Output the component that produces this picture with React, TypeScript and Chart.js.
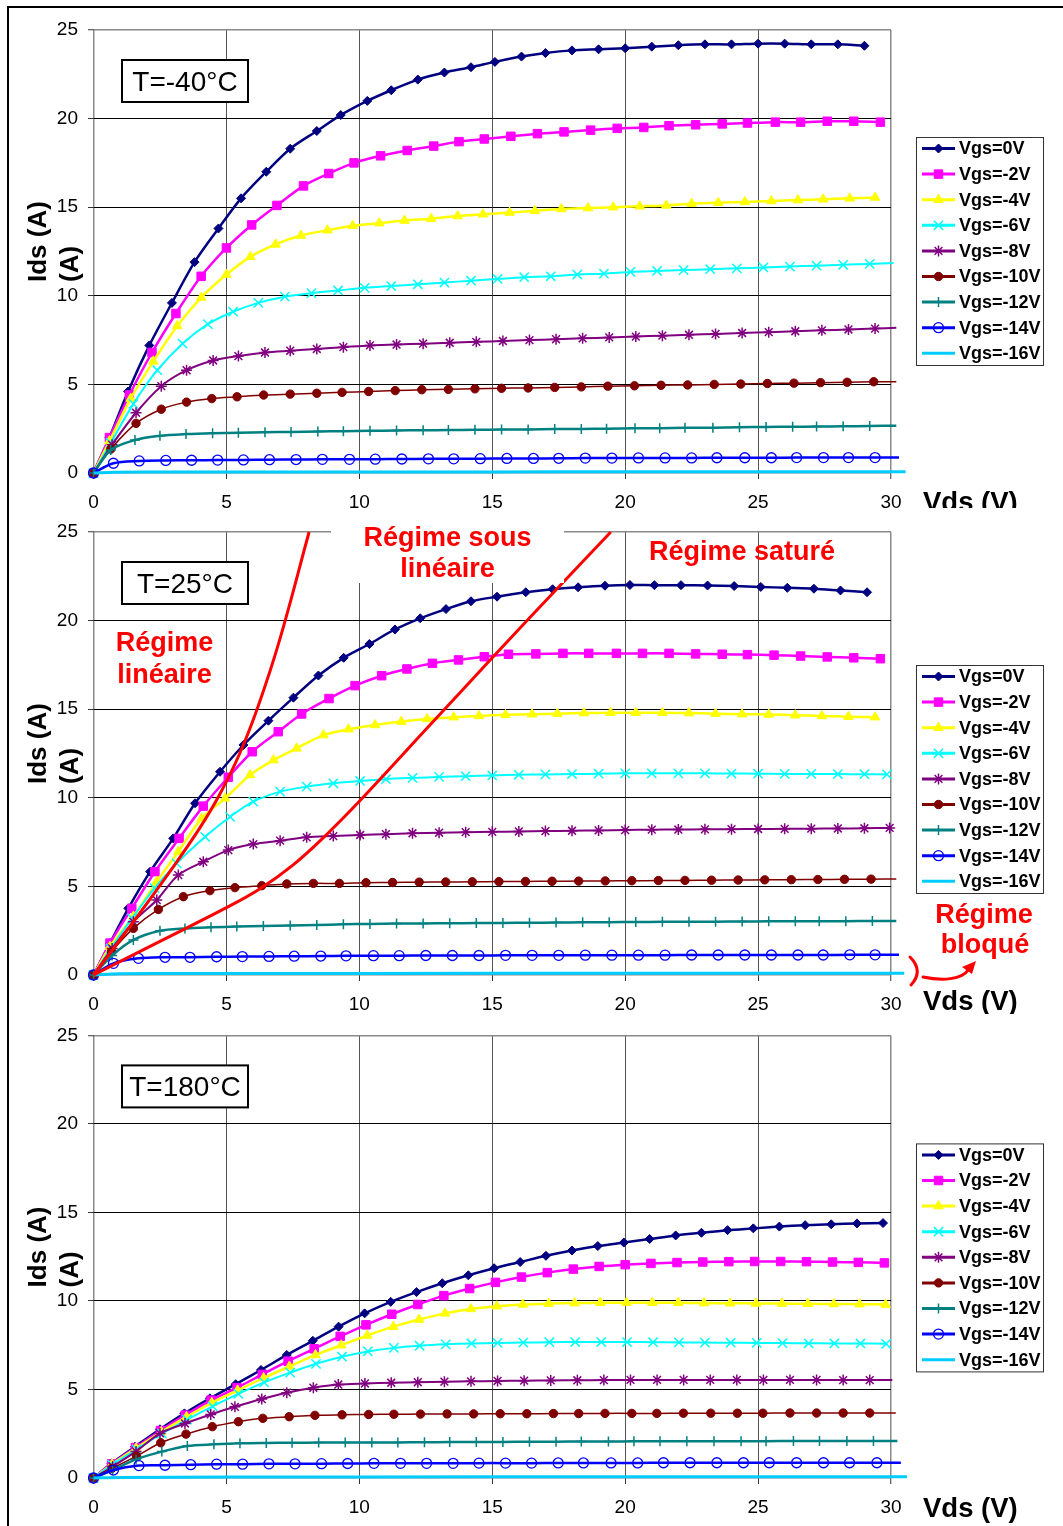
import React, { useEffect, useRef } from 'react';
import { Chart, registerables } from 'chart.js';

Chart.register(...registerables);

const FONT = '"Liberation Sans", Arial, Helvetica, sans-serif';

// ---------------- tick labels ----------------
const xTickValues = [0, 5, 10, 15, 20, 25, 30];
const yTickValues = [0, 5, 10, 15, 20, 25];

// ---------------- series names ----------------
const seriesLabels = ['Vgs=0V', 'Vgs=-2V', 'Vgs=-4V', 'Vgs=-6V', 'Vgs=-8V', 'Vgs=-10V', 'Vgs=-12V', 'Vgs=-14V', 'Vgs=-16V'];
const tempLabels = ['T=-40°C', 'T=25°C', 'T=180°C'];

// ---------------- T = -40°C ----------------
const vds_m40_0 = [0, 0.6, 1.3, 2.1, 2.95, 3.8, 4.7, 5.55, 6.5, 7.4, 8.4, 9.3, 10.3, 11.2, 12.2, 13.2, 14.2, 15.1, 16.1, 17.0, 18.0, 19.0, 20.0, 21.0, 22.0, 23.0, 24.0, 25.0, 26.0, 27.0, 28.0, 29.0];
const ids_m40_0 = [0, 2.0, 4.6, 7.2, 9.6, 11.9, 13.8, 15.5, 17.0, 18.3, 19.3, 20.2, 21.0, 21.6, 22.2, 22.6, 22.9, 23.2, 23.5, 23.7, 23.85, 23.91, 23.97, 24.06, 24.14, 24.19, 24.19, 24.23, 24.23, 24.19, 24.19, 24.11];
const vds_m40_2 = [0, 0.6, 1.35, 2.2, 3.1, 4.05, 5.0, 5.95, 6.9, 7.9, 8.85, 9.8, 10.8, 11.8, 12.8, 13.75, 14.7, 15.7, 16.7, 17.7, 18.7, 19.7, 20.7, 21.65, 22.65, 23.65, 24.6, 25.65, 26.6, 27.6, 28.6, 29.6];
const ids_m40_2 = [0, 2.0, 4.4, 6.8, 9.0, 11.1, 12.7, 14.0, 15.1, 16.2, 16.9, 17.5, 17.9, 18.2, 18.45, 18.7, 18.85, 19.0, 19.15, 19.25, 19.35, 19.45, 19.5, 19.6, 19.65, 19.7, 19.75, 19.8, 19.8, 19.85, 19.85, 19.8];
const vds_m40_4 = [0, 0.6, 1.4, 2.25, 3.15, 4.05, 5.0, 5.9, 6.85, 7.8, 8.8, 9.75, 10.75, 11.7, 12.7, 13.7, 14.65, 15.65, 16.6, 17.6, 18.6, 19.55, 20.55, 21.55, 22.5, 23.5, 24.5, 25.5, 26.5, 27.45, 28.45, 29.4];
const ids_m40_4 = [0, 1.8, 4.2, 6.3, 8.3, 9.9, 11.2, 12.2, 12.9, 13.4, 13.7, 13.95, 14.1, 14.25, 14.35, 14.5, 14.6, 14.7, 14.8, 14.9, 14.95, 15.0, 15.05, 15.1, 15.2, 15.25, 15.3, 15.35, 15.4, 15.45, 15.5, 15.55];
const vds_m40_6 = [0, 0.65, 1.5, 2.4, 3.35, 4.3, 5.25, 6.2, 7.2, 8.2, 9.2, 10.2, 11.2, 12.2, 13.2, 14.2, 15.2, 16.2, 17.2, 18.2, 19.2, 20.2, 21.2, 22.2, 23.2, 24.2, 25.2, 26.2, 27.2, 28.2, 29.2, 30.1];
const ids_m40_6 = [0, 1.7, 3.9, 5.8, 7.3, 8.4, 9.1, 9.6, 9.95, 10.15, 10.3, 10.45, 10.55, 10.65, 10.75, 10.85, 10.95, 11.05, 11.1, 11.2, 11.25, 11.35, 11.4, 11.45, 11.5, 11.55, 11.6, 11.65, 11.7, 11.75, 11.8, 11.85];
const vds_m40_8 = [0, 0.7, 1.6, 2.55, 3.5, 4.5, 5.45, 6.45, 7.4, 8.4, 9.4, 10.4, 11.4, 12.4, 13.4, 14.4, 15.4, 16.4, 17.4, 18.4, 19.4, 20.4, 21.4, 22.4, 23.4, 24.4, 25.4, 26.4, 27.4, 28.4, 29.4, 30.2];
const ids_m40_8 = [0, 1.6, 3.4, 4.9, 5.8, 6.35, 6.6, 6.8, 6.9, 7.0, 7.1, 7.2, 7.25, 7.3, 7.35, 7.4, 7.45, 7.5, 7.55, 7.6, 7.65, 7.7, 7.75, 7.8, 7.85, 7.9, 7.95, 8.0, 8.05, 8.1, 8.15, 8.2];
const vds_m40_10 = [0, 0.65, 1.6, 2.55, 3.5, 4.45, 5.4, 6.4, 7.4, 8.4, 9.35, 10.35, 11.35, 12.35, 13.35, 14.35, 15.35, 16.35, 17.35, 18.35, 19.35, 20.35, 21.35, 22.35, 23.35, 24.35, 25.35, 26.35, 27.35, 28.35, 29.35, 30.2];
const ids_m40_10 = [0, 1.35, 2.8, 3.6, 4.0, 4.2, 4.3, 4.4, 4.45, 4.5, 4.55, 4.6, 4.65, 4.7, 4.72, 4.75, 4.78, 4.8, 4.83, 4.86, 4.9, 4.92, 4.95, 4.97, 5.0, 5.02, 5.05, 5.07, 5.1, 5.12, 5.15, 5.15];
const vds_m40_12 = [0, 0.65, 1.56, 2.5, 3.48, 4.48, 5.45, 6.45, 7.43, 8.44, 9.4, 10.4, 11.4, 12.4, 13.35, 14.35, 15.35, 16.35, 17.35, 18.35, 19.3, 20.37, 21.3, 22.25, 23.3, 24.3, 25.3, 26.3, 27.2, 28.2, 29.2, 30.2];
const ids_m40_12 = [0, 1.3, 1.86, 2.1, 2.2, 2.25, 2.27, 2.3, 2.32, 2.34, 2.36, 2.38, 2.4, 2.41, 2.42, 2.44, 2.45, 2.46, 2.48, 2.49, 2.5, 2.52, 2.53, 2.55, 2.56, 2.58, 2.6, 2.61, 2.62, 2.64, 2.65, 2.67];
const vds_m40_14 = [0, 0.75, 1.72, 2.72, 3.69, 4.67, 5.64, 6.62, 7.62, 8.61, 9.63, 10.6, 11.6, 12.6, 13.55, 14.55, 15.55, 16.55, 17.5, 18.5, 19.5, 20.5, 21.5, 22.5, 23.45, 24.5, 25.5, 26.45, 27.46, 28.4, 29.4, 30.3];
const ids_m40_14 = [0, 0.55, 0.68, 0.71, 0.72, 0.73, 0.74, 0.75, 0.76, 0.77, 0.77, 0.78, 0.79, 0.8, 0.8, 0.81, 0.82, 0.82, 0.83, 0.84, 0.84, 0.85, 0.85, 0.85, 0.86, 0.86, 0.86, 0.87, 0.87, 0.87, 0.87, 0.87];
const vds_m40_16 = [0, 0.8, 2.0, 5.0, 10.0, 15.0, 20.0, 25.0, 30.55];
const ids_m40_16 = [0, 0.04, 0.05, 0.05, 0.06, 0.06, 0.07, 0.07, 0.07];

// ---------------- T = 25°C ----------------
const vds_25_0 = [0, 0.62, 1.31, 2.13, 3.0, 3.82, 4.76, 5.64, 6.58, 7.52, 8.46, 9.41, 10.38, 11.34, 12.29, 13.26, 14.2, 15.18, 16.26, 17.27, 18.23, 19.24, 20.18, 21.1, 22.1, 23.1, 24.1, 25.1, 26.1, 27.1, 28.1, 29.1];
const ids_25_0 = [0, 1.8, 3.76, 5.83, 7.71, 9.69, 11.47, 12.98, 14.35, 15.65, 16.9, 17.9, 18.68, 19.5, 20.13, 20.65, 21.09, 21.35, 21.6, 21.77, 21.88, 21.97, 22.01, 22.0, 22.0, 21.98, 21.95, 21.9, 21.85, 21.8, 21.7, 21.6];
const vds_25_2 = [0, 0.62, 1.44, 2.31, 3.22, 4.13, 5.07, 5.97, 6.95, 7.83, 8.86, 9.84, 10.84, 11.79, 12.75, 13.73, 14.7, 15.61, 16.64, 17.66, 18.63, 19.67, 20.65, 21.65, 22.65, 23.65, 24.6, 25.6, 26.6, 27.6, 28.6, 29.6];
const ids_25_2 = [0, 1.8, 3.76, 5.83, 7.71, 9.53, 11.16, 12.6, 13.73, 14.73, 15.6, 16.33, 16.89, 17.27, 17.59, 17.78, 17.96, 18.1, 18.12, 18.15, 18.15, 18.15, 18.15, 18.15, 18.12, 18.1, 18.08, 18.05, 18.0, 17.95, 17.9, 17.85];
const vds_25_4 = [0, 0.62, 1.5, 2.38, 3.19, 4.07, 4.95, 5.89, 6.77, 7.64, 8.65, 9.59, 10.59, 11.58, 12.55, 13.55, 14.5, 15.5, 16.5, 17.45, 18.45, 19.45, 20.4, 21.4, 22.4, 23.4, 24.4, 25.4, 26.4, 27.4, 28.4, 29.4];
const ids_25_4 = [0, 1.6, 3.3, 5.27, 6.96, 8.84, 9.97, 11.29, 12.13, 12.79, 13.54, 13.87, 14.11, 14.3, 14.45, 14.55, 14.62, 14.68, 14.72, 14.75, 14.78, 14.8, 14.8, 14.8, 14.78, 14.75, 14.72, 14.7, 14.66, 14.62, 14.58, 14.55];
const vds_25_6 = [0, 0.65, 1.45, 2.3, 3.13, 4.2, 5.14, 6.01, 7.02, 8.02, 9.02, 10.03, 11.0, 12.0, 13.0, 14.0, 15.0, 16.0, 17.0, 18.0, 19.0, 20.0, 21.0, 22.0, 23.0, 24.0, 25.0, 26.0, 27.0, 28.0, 29.0, 29.85];
const ids_25_6 = [0, 1.5, 3.2, 4.9, 6.3, 7.8, 8.93, 9.78, 10.35, 10.63, 10.82, 10.95, 11.05, 11.12, 11.18, 11.22, 11.26, 11.3, 11.32, 11.34, 11.36, 11.38, 11.38, 11.38, 11.38, 11.37, 11.36, 11.35, 11.35, 11.34, 11.33, 11.32];
const vds_25_8 = [0, 0.7, 1.5, 2.38, 3.19, 4.13, 5.07, 6.01, 7.02, 8.02, 9.02, 10.03, 11.0, 12.0, 13.0, 14.0, 15.0, 16.0, 17.0, 18.0, 19.0, 20.0, 21.0, 22.0, 23.0, 24.0, 25.0, 26.0, 27.0, 28.0, 29.0, 29.95];
const ids_25_8 = [0, 1.5, 3.0, 4.23, 5.64, 6.39, 7.05, 7.39, 7.58, 7.77, 7.84, 7.9, 7.95, 8.0, 8.03, 8.06, 8.08, 8.1, 8.12, 8.14, 8.16, 8.18, 8.2, 8.21, 8.22, 8.23, 8.24, 8.25, 8.26, 8.27, 8.28, 8.3];
const vds_25_10 = [0, 0.68, 1.5, 2.44, 3.38, 4.38, 5.32, 6.33, 7.27, 8.27, 9.25, 10.25, 11.25, 12.25, 13.25, 14.25, 15.25, 16.25, 17.25, 18.25, 19.25, 20.25, 21.25, 22.25, 23.25, 24.25, 25.25, 26.25, 27.25, 28.25, 29.25, 30.2];
const ids_25_10 = [0, 1.32, 2.63, 3.7, 4.42, 4.76, 4.93, 5.04, 5.14, 5.17, 5.17, 5.21, 5.22, 5.24, 5.25, 5.26, 5.27, 5.28, 5.29, 5.3, 5.31, 5.32, 5.33, 5.34, 5.35, 5.36, 5.37, 5.38, 5.39, 5.4, 5.41, 5.42];
const vds_25_12 = [0, 0.7, 1.5, 2.5, 3.44, 4.42, 5.39, 6.39, 7.4, 8.4, 9.4, 10.4, 11.4, 12.4, 13.4, 14.4, 15.4, 16.4, 17.4, 18.4, 19.4, 20.4, 21.4, 22.4, 23.4, 24.4, 25.4, 26.4, 27.3, 28.3, 29.3, 30.2];
const ids_25_12 = [0, 1.1, 1.98, 2.5, 2.63, 2.69, 2.73, 2.77, 2.8, 2.82, 2.86, 2.88, 2.9, 2.91, 2.92, 2.93, 2.94, 2.95, 2.96, 2.97, 2.98, 2.99, 3.0, 3.0, 3.01, 3.02, 3.03, 3.03, 3.04, 3.04, 3.05, 3.05];
const vds_25_14 = [0, 0.75, 1.69, 2.69, 3.63, 4.63, 5.6, 6.6, 7.55, 8.55, 9.5, 10.53, 11.5, 12.5, 13.5, 14.5, 15.5, 16.5, 17.5, 18.5, 19.5, 20.5, 21.5, 22.5, 23.5, 24.5, 25.5, 26.5, 27.45, 28.45, 29.4, 30.3];
const ids_25_14 = [0, 0.66, 0.94, 1.0, 1.0, 1.03, 1.04, 1.05, 1.06, 1.07, 1.08, 1.09, 1.09, 1.1, 1.1, 1.1, 1.11, 1.11, 1.11, 1.12, 1.12, 1.12, 1.12, 1.13, 1.13, 1.13, 1.13, 1.13, 1.13, 1.14, 1.14, 1.14];
const vds_25_16 = [0, 1.0, 3.0, 10.0, 20.0, 30.5];
const ids_25_16 = [0, 0.07, 0.08, 0.09, 0.1, 0.1];

// red regime boundaries (T = 25°C)
const linBoundVds = [0, 1.5, 3.0, 4.0, 4.75, 5.5, 6.2, 7.0, 8.11];
const linBoundIds = [0, 3.0, 6.1, 8.3, 10.2, 12.5, 15.2, 18.9, 25];
const satBoundVds = [0, 2.5, 5.0, 6.25, 7.5, 8.75, 10.0, 12.5, 15.0, 17.5, 19.46];
const satBoundIds = [0, 1.9, 3.8, 4.85, 6.2, 7.9, 9.8, 13.85, 17.9, 21.9, 25];

// ---------------- T = 180°C ----------------
const vds_180_0 = [0, 0.68, 1.56, 2.5, 3.42, 4.38, 5.35, 6.3, 7.27, 8.25, 9.22, 10.2, 11.18, 12.15, 13.12, 14.1, 15.07, 16.05, 17.02, 18.0, 18.97, 19.95, 20.92, 21.9, 22.87, 23.85, 24.82, 25.8, 26.77, 27.75, 28.72, 29.7];
const ids_180_0 = [0, 0.83, 1.77, 2.75, 3.65, 4.5, 5.3, 6.1, 6.95, 7.75, 8.55, 9.3, 9.95, 10.5, 11.0, 11.45, 11.85, 12.2, 12.55, 12.85, 13.1, 13.3, 13.5, 13.7, 13.85, 14.0, 14.1, 14.2, 14.28, 14.33, 14.38, 14.4];
const vds_180_2 = [0, 0.68, 1.58, 2.52, 3.45, 4.42, 5.4, 6.35, 7.32, 8.3, 9.28, 10.25, 11.22, 12.2, 13.18, 14.15, 15.12, 16.1, 17.07, 18.05, 19.02, 20.0, 20.97, 21.95, 22.92, 23.9, 24.87, 25.85, 26.82, 27.8, 28.77, 29.75];
const ids_180_2 = [0, 0.8, 1.72, 2.68, 3.55, 4.4, 5.1, 5.85, 6.6, 7.3, 8.0, 8.65, 9.25, 9.8, 10.3, 10.7, 11.05, 11.35, 11.6, 11.8, 11.95, 12.05, 12.12, 12.17, 12.2, 12.22, 12.23, 12.23, 12.22, 12.2, 12.18, 12.15];
const vds_180_4 = [0, 0.7, 1.6, 2.55, 3.5, 4.45, 5.42, 6.4, 7.37, 8.35, 9.32, 10.3, 11.28, 12.25, 13.22, 14.2, 15.17, 16.15, 17.12, 18.1, 19.07, 20.05, 21.02, 22.0, 22.97, 23.95, 24.92, 25.9, 26.87, 27.85, 28.82, 29.8];
const ids_180_4 = [0, 0.78, 1.68, 2.6, 3.45, 4.25, 4.95, 5.65, 6.3, 6.95, 7.5, 8.05, 8.55, 8.95, 9.3, 9.55, 9.7, 9.8, 9.85, 9.88, 9.9, 9.9, 9.9, 9.9, 9.88, 9.87, 9.86, 9.85, 9.84, 9.83, 9.82, 9.8];
const vds_180_6 = [0, 0.7, 1.62, 2.57, 3.52, 4.48, 5.45, 6.42, 7.4, 8.37, 9.35, 10.32, 11.3, 12.27, 13.25, 14.22, 15.2, 16.17, 17.15, 18.12, 19.1, 20.07, 21.05, 22.02, 23.0, 23.97, 24.95, 25.92, 26.9, 27.87, 28.85, 29.82];
const ids_180_6 = [0, 0.75, 1.62, 2.5, 3.3, 4.05, 4.75, 5.4, 5.95, 6.45, 6.85, 7.15, 7.35, 7.47, 7.55, 7.6, 7.63, 7.65, 7.67, 7.68, 7.68, 7.68, 7.67, 7.66, 7.65, 7.64, 7.63, 7.62, 7.61, 7.6, 7.6, 7.58];
const vds_180_8 = [0, 0.72, 1.6, 2.5, 3.44, 4.41, 5.32, 6.33, 7.27, 8.27, 9.21, 10.21, 11.2, 12.2, 13.2, 14.2, 15.2, 16.2, 17.2, 18.2, 19.2, 20.2, 21.2, 22.2, 23.2, 24.2, 25.2, 26.2, 27.2, 28.2, 29.2, 30.05];
const ids_180_8 = [0, 0.65, 1.5, 2.52, 3.08, 3.59, 4.02, 4.46, 4.82, 5.1, 5.28, 5.34, 5.38, 5.41, 5.44, 5.46, 5.48, 5.5, 5.51, 5.52, 5.53, 5.54, 5.54, 5.54, 5.54, 5.54, 5.54, 5.54, 5.54, 5.53, 5.53, 5.53];
const vds_180_10 = [0, 0.7, 1.62, 2.53, 3.48, 4.47, 5.45, 6.37, 7.36, 8.33, 9.35, 10.35, 11.3, 12.3, 13.3, 14.3, 15.3, 16.3, 17.3, 18.25, 19.24, 20.25, 21.19, 22.19, 23.22, 24.22, 25.18, 26.2, 27.2, 28.2, 29.2, 30.18];
const ids_180_10 = [0, 0.55, 1.24, 1.99, 2.48, 2.9, 3.18, 3.37, 3.46, 3.54, 3.57, 3.59, 3.6, 3.61, 3.62, 3.62, 3.63, 3.63, 3.64, 3.64, 3.65, 3.65, 3.65, 3.66, 3.66, 3.66, 3.66, 3.67, 3.67, 3.67, 3.67, 3.67];
const vds_180_12 = [0, 0.72, 1.6, 2.57, 3.53, 4.53, 5.51, 6.5, 7.47, 8.47, 9.47, 10.47, 11.45, 12.45, 13.4, 14.4, 15.4, 16.4, 17.4, 18.35, 19.37, 20.33, 21.31, 22.32, 23.34, 24.36, 25.3, 26.33, 27.31, 28.34, 29.34, 30.24];
const ids_180_12 = [0, 0.45, 1.05, 1.49, 1.81, 1.9, 1.96, 1.98, 1.99, 2.0, 2.0, 2.0, 2.01, 2.02, 2.03, 2.04, 2.04, 2.05, 2.05, 2.06, 2.06, 2.07, 2.07, 2.07, 2.08, 2.08, 2.08, 2.09, 2.09, 2.09, 2.09, 2.09];
const vds_180_14 = [0, 0.75, 1.71, 2.69, 3.66, 4.63, 5.61, 6.6, 7.58, 8.58, 9.56, 10.55, 11.55, 12.53, 13.53, 14.5, 15.5, 16.48, 17.48, 18.43, 19.47, 20.47, 21.44, 22.44, 23.45, 24.45, 25.42, 26.45, 27.46, 28.44, 29.47, 30.37];
const ids_180_14 = [0, 0.45, 0.7, 0.72, 0.75, 0.78, 0.78, 0.8, 0.8, 0.81, 0.82, 0.83, 0.83, 0.83, 0.83, 0.84, 0.84, 0.84, 0.85, 0.85, 0.85, 0.85, 0.86, 0.86, 0.86, 0.86, 0.86, 0.86, 0.86, 0.86, 0.86, 0.86];
const vds_180_16 = [0, 1.0, 5.0, 10.0, 20.0, 30.6];
const ids_180_16 = [0, 0.03, 0.05, 0.06, 0.07, 0.07];

// ---------------- styles (not data) ----------------
const STYLES = [
  { color: '#000080', fill: '#000080', marker: 'rectRot', r: 4.5, bw: 1, lw: 2.5 },
  { color: '#FF00FF', fill: '#FF00FF', marker: 'rect', r: 6, bw: 1, lw: 2.5 },
  { color: '#FFFF00', fill: '#FFFF00', marker: 'triangle', r: 5.5, bw: 1, lw: 2.5 },
  { color: '#00FFFF', fill: '#00FFFF', marker: 'crossRot', r: 6.5, bw: 1.5, lw: 2 },
  { color: '#800080', fill: '#800080', marker: 'star', r: 5.5, bw: 1.5, lw: 2 },
  { color: '#800000', fill: '#800000', marker: 'circle', r: 4.2, bw: 1, lw: 1.5 },
  { color: '#008080', fill: '#008080', marker: 'cross', r: 5, bw: 1.5, lw: 2.5 },
  { color: '#0000FF', fill: 'rgba(0,0,0,0)', marker: 'circle', r: 5, bw: 1.3, lw: 2.5 },
  { color: '#00CCFF', fill: '#00CCFF', marker: '', r: 0, bw: 0, lw: 3 },
];

const PANELS = [
  {
    temp: tempLabels[0],
    series: [[vds_m40_0, ids_m40_0], [vds_m40_2, ids_m40_2], [vds_m40_4, ids_m40_4], [vds_m40_6, ids_m40_6], [vds_m40_8, ids_m40_8], [vds_m40_10, ids_m40_10], [vds_m40_12, ids_m40_12], [vds_m40_14, ids_m40_14], [vds_m40_16, ids_m40_16]],
    canvasTop: 0, canvasH: 508, padTop: 30, legendOffset: 107, vdsBase: 37.7, annot: false,
  },
  {
    temp: tempLabels[1],
    series: [[vds_25_0, ids_25_0], [vds_25_2, ids_25_2], [vds_25_4, ids_25_4], [vds_25_6, ids_25_6], [vds_25_8, ids_25_8], [vds_25_10, ids_25_10], [vds_25_12, ids_25_12], [vds_25_14, ids_25_14], [vds_25_16, ids_25_16]],
    canvasTop: 508, canvasH: 506, padTop: 24, legendOffset: 133, vdsBase: 35, annot: true,
  },
  {
    temp: tempLabels[2],
    series: [[vds_180_0, ids_180_0], [vds_180_2, ids_180_2], [vds_180_4, ids_180_4], [vds_180_6, ids_180_6], [vds_180_8, ids_180_8], [vds_180_10, ids_180_10], [vds_180_12, ids_180_12], [vds_180_14, ids_180_14], [vds_180_16, ids_180_16]],
    canvasTop: 1014, canvasH: 512, padTop: 21, legendOffset: 108, vdsBase: 39, annot: false,
  },
];

const PLOT_H = 443;
const PLOT_LEFT = 93.5;
const PLOT_RIGHT = 891;
const PAGE_W = 1063;

function drawMarker(ctx: CanvasRenderingContext2D, style: string, x: number, y: number, r: number, fill: string, stroke: string, bw: number) {
  if (!style) return;
  ctx.save();
  ctx.fillStyle = fill;
  ctx.strokeStyle = stroke;
  ctx.lineWidth = bw;
  ctx.beginPath();
  const d = r * Math.SQRT1_2;
  switch (style) {
    case 'rectRot':
      ctx.moveTo(x, y - r); ctx.lineTo(x + r, y); ctx.lineTo(x, y + r); ctx.lineTo(x - r, y); ctx.closePath();
      ctx.fill(); ctx.stroke(); break;
    case 'rect':
      ctx.rect(x - d, y - d, 2 * d, 2 * d); ctx.fill(); ctx.stroke(); break;
    case 'triangle': {
      let a = 0;
      ctx.moveTo(x + Math.sin(a) * r, y - Math.cos(a) * r);
      a += (2 * Math.PI) / 3;
      ctx.lineTo(x + Math.sin(a) * r, y - Math.cos(a) * r);
      a += (2 * Math.PI) / 3;
      ctx.lineTo(x + Math.sin(a) * r, y - Math.cos(a) * r);
      ctx.closePath(); ctx.fill(); ctx.stroke(); break;
    }
    case 'crossRot':
      ctx.moveTo(x - d, y - d); ctx.lineTo(x + d, y + d); ctx.moveTo(x - d, y + d); ctx.lineTo(x + d, y - d); ctx.stroke(); break;
    case 'star':
      ctx.moveTo(x - d, y - d); ctx.lineTo(x + d, y + d); ctx.moveTo(x - d, y + d); ctx.lineTo(x + d, y - d);
      ctx.moveTo(x, y - r); ctx.lineTo(x, y + r); ctx.moveTo(x - r, y); ctx.lineTo(x + r, y); ctx.stroke(); break;
    case 'cross':
      ctx.moveTo(x, y - r); ctx.lineTo(x, y + r); ctx.moveTo(x - r, y); ctx.lineTo(x + r, y); ctx.stroke(); break;
    case 'circle':
      ctx.arc(x, y, r, 0, Math.PI * 2); ctx.fill(); ctx.stroke(); break;
  }
  ctx.restore();
}

const decorPlugin = {
  id: 'decor',
  afterDraw(chart: any, _args: any, opts: any) {
    const ctx: CanvasRenderingContext2D = chart.ctx;
    const ca = chart.chartArea;
    const cTop = opts.canvasTop;
    ctx.save();

    // temperature box
    const bx = 122, by = ca.top + 30, bw = 126, bh = 42;
    ctx.fillStyle = '#fff';
    ctx.fillRect(bx, by, bw, bh);
    ctx.strokeStyle = '#000';
    ctx.lineWidth = 2;
    ctx.strokeRect(bx, by, bw, bh);
    ctx.fillStyle = '#000';
    ctx.font = `28px ${FONT}`;
    ctx.textAlign = 'center';
    ctx.textBaseline = 'alphabetic';
    ctx.fillText(opts.temp, bx + bw / 2, by + 31);

    // y axis title (two lines, rotated)
    ctx.save();
    ctx.font = `bold 26px ${FONT}`;
    ctx.textAlign = 'left';
    ctx.translate(46, ca.top + 252);
    ctx.rotate(-Math.PI / 2);
    ctx.fillText('Ids (A)', 0, 0);
    ctx.fillText('(A)', 0, 32);
    ctx.restore();

    // x axis title
    ctx.font = `bold 27.5px ${FONT}`;
    ctx.textAlign = 'left';
    ctx.fillStyle = '#000';
    ctx.fillText('Vds (V)', 923, ca.bottom + opts.vdsBase);

    // legend
    const lx = 916, lw = 127, lh = 228, ly = ca.top + opts.legendOffset;
    ctx.fillStyle = '#fff';
    ctx.fillRect(lx, ly, lw, lh);
    ctx.strokeStyle = '#333';
    ctx.lineWidth = 1;
    ctx.strokeRect(lx + 0.5, ly + 0.5, lw, lh);
    ctx.font = `bold 18px ${FONT}`;
    ctx.textBaseline = 'middle';
    for (let i = 0; i < seriesLabels.length; i++) {
      const st = STYLES[i];
      const cy = ly + 11.5 + i * 25.6;
      ctx.strokeStyle = st.color;
      ctx.lineWidth = 3;
      ctx.beginPath();
      ctx.moveTo(922, cy);
      ctx.lineTo(955, cy);
      ctx.stroke();
      drawMarker(ctx, st.marker, 938.5, cy, st.r, st.fill, st.color, st.bw);
      ctx.fillStyle = '#000';
      ctx.textAlign = 'left';
      ctx.fillText(seriesLabels[i], 959, cy + 1);
    }

    if (opts.annot) {
      const Y = (py: number) => py - cTop;
      // white background of the text box
      ctx.fillStyle = '#fff';
      ctx.fillRect(331, Y(514), 233, 69);
      ctx.fillStyle = '#FF0000';
      ctx.font = `bold 27px ${FONT}`;
      ctx.textAlign = 'center';
      ctx.textBaseline = 'alphabetic';
      ctx.fillText('Régime sous', 447.5, Y(546));
      ctx.fillText('linéaire', 447.5, Y(577));
      ctx.fillText('Régime saturé', 742, Y(560));
      ctx.fillText('Régime', 164.5, Y(651));
      ctx.fillText('linéaire', 164.5, Y(683));
      ctx.fillText('Régime', 984, Y(923));
      ctx.fillText('bloqué', 985, Y(953));
      // bracket
      ctx.strokeStyle = '#FF0000';
      ctx.lineWidth = 3;
      ctx.lineCap = 'round';
      ctx.beginPath();
      ctx.moveTo(910, Y(957));
      ctx.quadraticCurveTo(924, Y(971), 911, Y(985));
      ctx.stroke();
      // arrow
      ctx.beginPath();
      ctx.moveTo(923, Y(977));
      ctx.bezierCurveTo(942, Y(981), 962, Y(980), 969, Y(969));
      ctx.stroke();
      ctx.fillStyle = '#FF0000';
      ctx.beginPath();
      ctx.moveTo(976, Y(961));
      ctx.lineTo(962, Y(967));
      ctx.lineTo(972, Y(974));
      ctx.closePath();
      ctx.fill();
    }
    ctx.restore();
  },
};

function buildConfig(panel: any): any {
  const datasets: any[] = panel.series.map((pair: number[][], i: number) => {
    const st = STYLES[i];
    return {
      label: seriesLabels[i],
      data: pair[0].map((x: number, k: number) => ({ x, y: pair[1][k] })),
      borderColor: st.color,
      backgroundColor: st.fill,
      borderWidth: st.lw,
      pointStyle: st.marker || 'circle',
      pointRadius: (c: any) => (st.marker && c.raw && c.raw.x <= 30 ? st.r : 0),
      pointHoverRadius: 0,
      pointBorderColor: st.color,
      pointBackgroundColor: st.fill,
      pointBorderWidth: st.bw,
      tension: 0.3,
      fill: false,
      clip: false,
      order: 50 - i,
    };
  });
  if (panel.annot) {
    [[linBoundVds, linBoundIds], [satBoundVds, satBoundIds]].forEach((pair, j) => {
      datasets.push({
        label: 'bound' + j,
        data: pair[0].map((x: number, k: number) => ({ x, y: pair[1][k] })),
        borderColor: '#FF0000',
        borderWidth: 3,
        pointRadius: 0,
        pointHoverRadius: 0,
        tension: 0.4,
        fill: false,
        clip: false,
        order: 0,
      });
    });
  }
  const xAxisH = panel.canvasH - panel.padTop - PLOT_H;
  return {
    type: 'line',
    data: { datasets },
    plugins: [decorPlugin],
    options: {
      animation: false,
      responsive: false,
      maintainAspectRatio: false,
      devicePixelRatio: 1,
      events: [],
      layout: { padding: { top: panel.padTop, left: 0, right: PAGE_W - PLOT_RIGHT, bottom: 0 } },
      plugins: {
        legend: { display: false },
        tooltip: { enabled: false },
        title: { display: false },
        decor: { temp: panel.temp, legendOffset: panel.legendOffset, vdsBase: panel.vdsBase, annot: panel.annot, canvasTop: panel.canvasTop },
      },
      scales: {
        x: {
          type: 'linear',
          min: 0,
          max: 30,
          afterBuildTicks: (s: any) => { s.ticks = xTickValues.map((v) => ({ value: v })); },
          afterFit: (s: any) => { s.height = xAxisH; },
          ticks: { color: '#000', font: { family: FONT, size: 19 }, padding: 12, maxRotation: 0, autoSkip: false, callback: (v: any) => String(v) },
          grid: {
            color: (c: any) => (c.tick && (c.tick.value === 0 || c.tick.value === 30) ? '#8a8a8a' : '#555'),
            lineWidth: (c: any) => (c.tick && (c.tick.value === 0 || c.tick.value === 30) ? 1.5 : 1),
            tickLength: 6,
            tickColor: '#333',
            tickWidth: 1,
          },
          border: { display: false },
        },
        y: {
          type: 'linear',
          min: 0,
          max: 25,
          afterBuildTicks: (s: any) => { s.ticks = yTickValues.map((v) => ({ value: v })); },
          afterFit: (s: any) => { s.width = PLOT_LEFT; },
          ticks: { color: '#000', font: { family: FONT, size: 19 }, padding: 10, callback: (v: any) => String(v) },
          grid: {
            color: (c: any) => (c.tick && (c.tick.value === 0 || c.tick.value === 25) ? '#8a8a8a' : '#000'),
            lineWidth: (c: any) => (c.tick && (c.tick.value === 0 || c.tick.value === 25) ? 1.5 : 1),
            tickLength: 5.5,
            tickColor: '#333',
            tickWidth: 1,
          },
          border: { display: false },
        },
      },
    },
  };
}

function Panel({ panel }: { panel: any }) {
  const ref = useRef<HTMLCanvasElement>(null);
  useEffect(() => {
    const chart = new Chart(ref.current as HTMLCanvasElement, buildConfig(panel));
    return () => chart.destroy();
  }, [panel]);
  return (
    <canvas
      ref={ref}
      width={PAGE_W}
      height={panel.canvasH}
      style={{ position: 'absolute', left: 0, top: panel.canvasTop, width: PAGE_W, height: panel.canvasH, display: 'block' }}
    />
  );
}

export default function App() {
  return (
    <div style={{ position: 'absolute', left: 0, top: 0, width: PAGE_W, height: 1526, overflow: 'hidden', background: '#fff' }}>
      {PANELS.map((p, i) => (
        <Panel key={i} panel={p} />
      ))}
      <div
        style={{
          position: 'absolute', left: 7, top: 6, width: 1200, height: 1700,
          borderTop: '2px solid #000', borderLeft: '2px solid #000', pointerEvents: 'none',
        }}
      />
    </div>
  );
}
